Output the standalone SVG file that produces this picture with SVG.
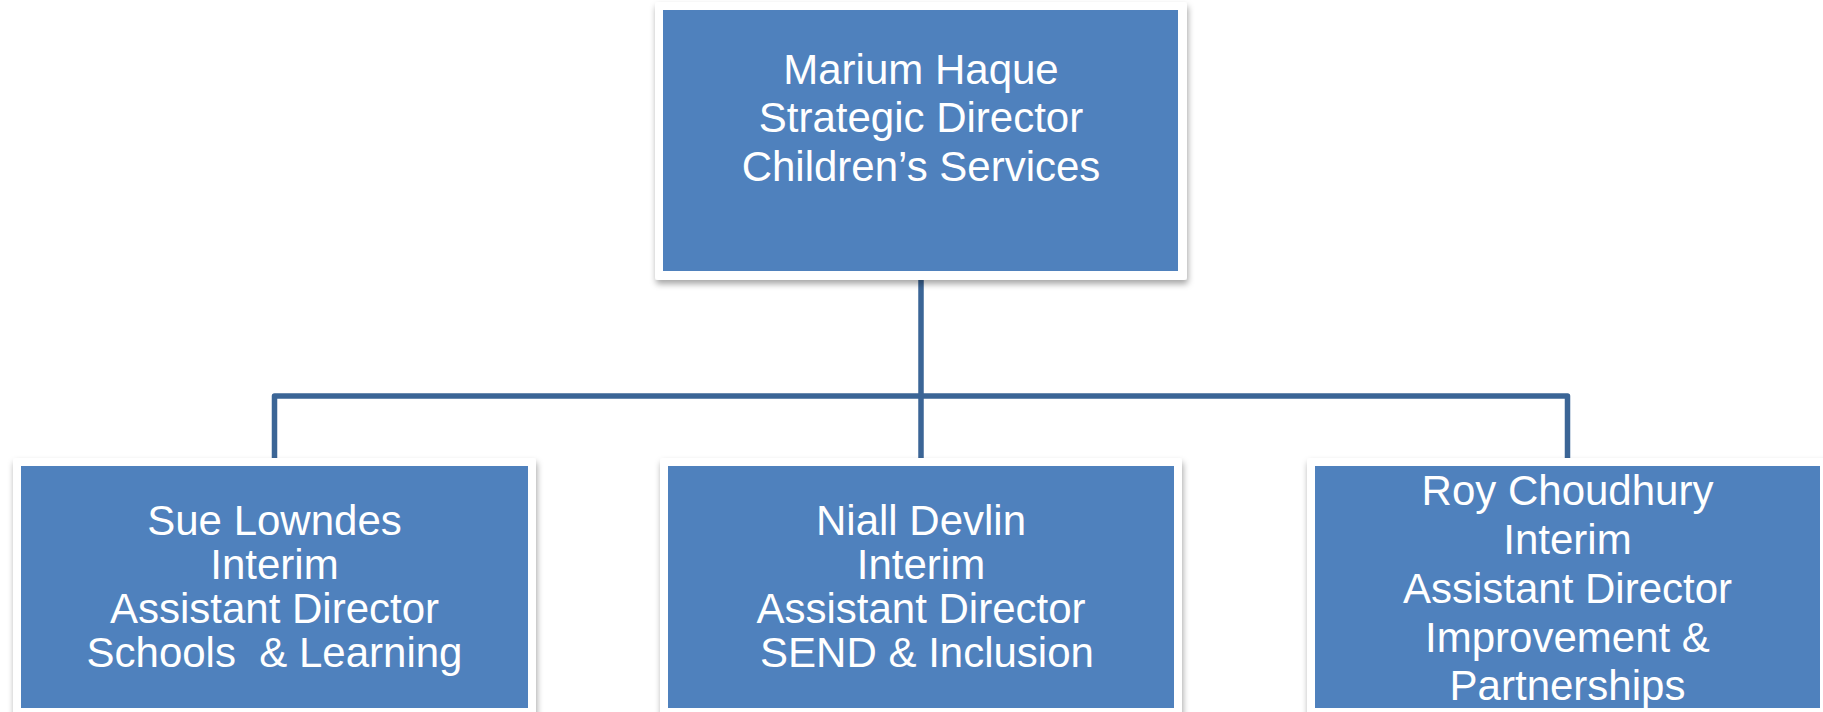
<svg xmlns="http://www.w3.org/2000/svg" width="1823" height="712" viewBox="0 0 1823 712">
  <style>
    .frame { fill: #ffffff; filter: url(#shadow); }
    .body { fill: #4F81BD; }
    .label { font-family: "Liberation Sans", Arial, sans-serif; font-size: 42px; fill: #ffffff; text-anchor: middle; }
    .conn { fill: none; stroke: #3B6596; stroke-width: 5.5; stroke-linejoin: round; }
  </style>
  <defs>
    <filter id="shadow" x="-5%" y="-5%" width="110%" height="115%">
      <feDropShadow dx="1" dy="4" stdDeviation="3" flood-color="#000000" flood-opacity="0.35"/>
    </filter>
  </defs>
  <rect width="1823" height="712" fill="#ffffff"/>

  <g id="connectors">
    <path class="conn" d="M921 272 V396 H274.5 V460"/>
    <path class="conn" d="M921 396 H1567.5 V460"/>
    <path class="conn" d="M921 396 V460"/>
  </g>

  <g id="node-marium">
    <rect class="frame" x="655" y="2" width="532" height="278" rx="3"/>
    <rect class="body" x="663" y="10" width="515" height="261"/>
    <text class="label" x="921" y="83.5">Marium Haque</text>
    <text class="label" x="921" y="132">Strategic Director</text>
    <text class="label" x="921" y="180.5">Children’s Services</text>
  </g>

  <g id="node-sue">
    <rect class="frame" x="13" y="458" width="523" height="262" rx="3"/>
    <rect class="body" x="21" y="466" width="507" height="242"/>
    <text class="label" x="274.5" y="535">Sue Lowndes</text>
    <text class="label" x="274.5" y="579">Interim</text>
    <text class="label" x="274.5" y="623">Assistant Director</text>
    <text class="label" x="274.5" y="667" xml:space="preserve">Schools  &amp; Learning</text>
  </g>

  <g id="node-niall">
    <rect class="frame" x="660" y="458" width="522" height="262" rx="3"/>
    <rect class="body" x="668" y="466" width="506" height="242"/>
    <text class="label" x="921" y="535">Niall Devlin</text>
    <text class="label" x="921" y="579">Interim</text>
    <text class="label" x="921" y="623">Assistant Director</text>
    <text class="label" x="927" y="667">SEND &amp; Inclusion</text>
  </g>

  <g id="node-roy">
    <rect class="frame" x="1307" y="458" width="521" height="262" rx="3"/>
    <rect class="body" x="1315" y="466" width="505" height="242"/>
    <text class="label" x="1567.5" y="505">Roy Choudhury</text>
    <text class="label" x="1567.5" y="553.5">Interim</text>
    <text class="label" x="1567.5" y="602.5">Assistant Director</text>
    <text class="label" x="1567.5" y="651.5">Improvement &amp;</text>
    <text class="label" x="1567.5" y="700">Partnerships</text>
  </g>
</svg>
